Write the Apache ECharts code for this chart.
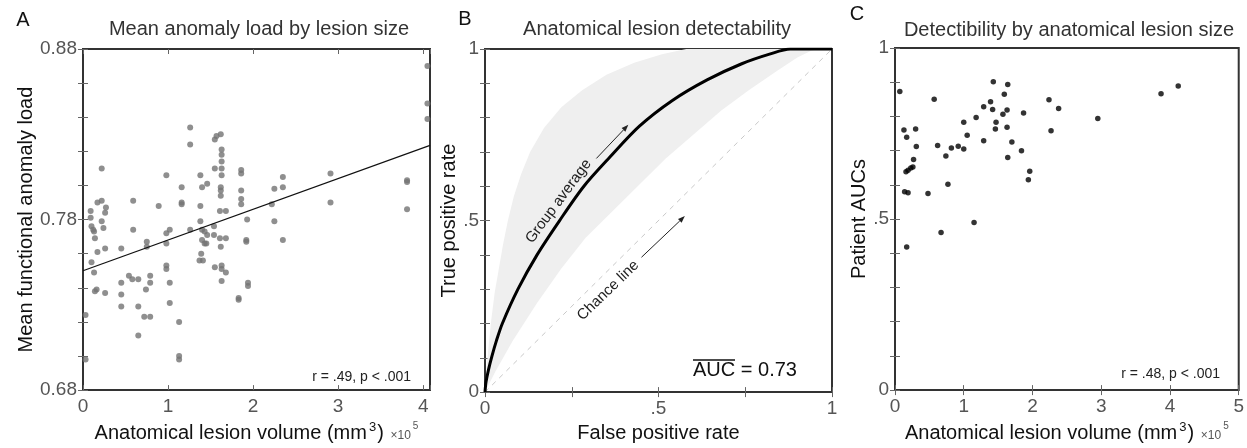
<!DOCTYPE html>
<html lang="en">
<head>
<meta charset="UTF-8">
<title>Lesion detectability</title>
<script src="https://cdn.jsdelivr.net/npm/echarts@6/dist/echarts.min.js"></script>
<style>
    html, body { margin: 0; padding: 0; background: #fff; }
    #main { width: 1247px; height: 448px; }
</style>
</head>
<body>
<div id="main"></div>
<script>
var FONT = '"Liberation Sans", Arial, Helvetica, sans-serif';

// --- panel A: mean anomaly load vs lesion volume (x 10^5 mm3)
var volA = [0.03,0.03,0.09,0.09,0.10,0.12,0.13,0.14,0.10,0.13,0.14,0.16,0.17,0.17,0.22,0.22,0.22,0.24,0.26,0.27,0.26,0.26,
    0.45,0.45,0.45,0.45,0.54,0.58,0.65,0.59,0.59,0.65,0.65,0.72,0.79,0.74,0.75,0.75,0.79,0.79,
    0.89,0.98,0.98,0.98,1.02,0.98,0.98,1.02,1.02,1.13,1.13,1.13,1.16,1.16,1.16,1.26,1.26,1.26,
    1.38,1.38,1.38,1.40,1.46,1.40,1.43,1.46,1.40,1.43,1.45,1.39,1.37,1.41,
    1.55,1.57,1.62,1.63,1.63,1.63,1.55,1.63,1.63,1.62,1.62,1.62,1.61,1.68,1.54,1.54,1.61,1.68,1.62,1.55,1.63,1.63,1.68,1.63,
    1.86,1.86,1.86,1.86,1.86,1.93,1.92,1.92,1.83,1.83,1.94,1.94,
    2.22,2.25,2.25,2.35,2.35,2.35,2.91,2.91,3.81,3.81,3.81,4.05,4.05,4.05];
var loadA = [0.698,0.724,0.785,0.781,0.776,0.774,0.773,0.769,0.755,0.749,0.738,0.739,0.761,0.790,0.791,0.810,0.779,0.775,0.784,0.787,0.763,0.737,
    0.763,0.743,0.736,0.729,0.747,0.745,0.745,0.791,0.774,0.729,0.712,0.723,0.723,0.739,0.764,0.767,0.747,0.743,
    0.788,0.806,0.766,0.772,0.774,0.753,0.751,0.743,0.731,0.720,0.700,0.698,0.799,0.790,0.789,0.834,0.824,0.774,
    0.806,0.788,0.779,0.799,0.801,0.774,0.773,0.771,0.768,0.766,0.766,0.760,0.756,0.756,
    0.827,0.829,0.830,0.821,0.818,0.814,0.810,0.810,0.806,0.799,0.797,0.794,0.785,0.785,0.776,0.771,0.769,0.769,0.764,0.752,0.753,0.751,0.749,0.744,
    0.809,0.807,0.797,0.792,0.789,0.780,0.768,0.767,0.734,0.733,0.743,0.741,
    0.789,0.798,0.779,0.805,0.799,0.768,0.807,0.790,0.803,0.802,0.786,0.870,0.848,0.839];
var fitAx = [0, 4.08];
var fitAy = [0.750, 0.8235];
var tickLabelsA = [0.68, 0.78, 0.88];

// --- panel B: ROC curve, group average and spread
var rocFpr = [0, 0.003, 0.01, 0.02, 0.033, 0.05, 0.095, 0.15, 0.215, 0.285, 0.36, 0.445, 0.54, 0.64, 0.74, 0.82, 0.88, 1];
var rocTpr = [0, 0.03, 0.065, 0.105, 0.15, 0.2, 0.3, 0.4, 0.5, 0.6, 0.685, 0.775, 0.85, 0.91, 0.957, 0.985, 1, 1];
var bandHiFpr = [0, 0.004, 0.01, 0.018, 0.028, 0.04, 0.052, 0.066, 0.083, 0.104, 0.13, 0.17, 0.22, 0.28, 0.35, 0.43, 0.51, 0.58, 1];
var bandHiTpr = [0, 0.06, 0.13, 0.21, 0.29, 0.36, 0.43, 0.5, 0.57, 0.635, 0.7, 0.77, 0.83, 0.88, 0.925, 0.96, 0.985, 1, 1];
var bandLoFpr = [0, 0.03, 0.08, 0.15, 0.22, 0.29, 0.36, 0.44, 0.52, 0.6, 0.68, 0.76, 0.84, 0.9, 0.94, 0.96, 1];
var bandLoTpr = [0, 0.06, 0.15, 0.26, 0.36, 0.45, 0.52, 0.6, 0.68, 0.75, 0.82, 0.88, 0.935, 0.975, 0.995, 1, 1];
var chance = [[0, 0], [1, 1]];
var notesB = [
    { text: 'Group average', fpr: 0.212, tpr: 0.556, angle: 53.5 },
    { text: 'Chance line', fpr: 0.355, tpr: 0.296, angle: 44 }
];
var arrowsB = [[0.321, 0.681, 0.413, 0.779], [0.451, 0.393, 0.576, 0.513]];

// --- panel C: patient AUC vs lesion volume
var volC = [0.07,0.13,0.17,0.30,0.31,0.27,0.16,0.19,0.23,0.26,0.14,0.19,0.48,0.17,0.57,0.62,0.74,0.77,0.67,0.82,0.92,
    1.00,1.00,1.05,1.15,1.18,1.29,1.29,1.39,1.42,1.43,1.47,1.46,1.57,1.59,1.64,1.63,1.63,1.64,1.70,
    1.84,1.87,1.96,1.94,2.24,2.27,2.38,2.95,3.87,4.12];
var aucC = [0.873,0.760,0.739,0.763,0.712,0.674,0.638,0.643,0.649,0.652,0.580,0.577,0.575,0.418,0.850,0.715,0.684,0.602,0.461,0.708,0.713,
    0.783,0.705,0.745,0.490,0.797,0.828,0.729,0.843,0.820,0.901,0.783,0.763,0.806,0.865,0.893,0.819,0.768,0.680,0.725,
    0.700,0.810,0.640,0.615,0.849,0.758,0.823,0.794,0.866,0.889];

function pairs(xs, ys) {
    return xs.map(function (x, i) { return [x, ys[i]]; });
}
function near(v, list) {
    return list.some(function (t) { return Math.abs(v - t) < 1e-6; });
}
function shortNum(v) {
    // MATLAB style ".5"
    if (Math.abs(v) < 1e-9) return '0';
    if (Math.abs(v - 1) < 1e-9) return '1';
    return String(Math.round(v * 10) / 10).replace(/^0\./, '.');
}

var myChart = echarts.init(document.getElementById('main'));

var tickStyle = { show: true, inside: true, length: 5, lineStyle: { color: '#666', width: 1 } };
var labelStyle = { color: '#555', fontSize: 19, fontFamily: FONT };
var volName = '{n|Anatomical lesion volume (mm}{s|3}{n|)}{m|  \u00d710}{ms|5}';
var volRich = {
    n: { fontSize: 20, color: '#111', fontFamily: FONT, lineHeight: 24, verticalAlign: 'middle' },
    s: { fontSize: 13, color: '#111', fontFamily: FONT, verticalAlign: 'top', lineHeight: 24, padding: [0, 1, 0, 2] },
    m: { fontSize: 12, color: '#555', fontFamily: FONT, lineHeight: 24, verticalAlign: 'middle', padding: [6, 0, 0, 0] },
    ms: { fontSize: 10, color: '#555', fontFamily: FONT, lineHeight: 24, verticalAlign: 'top', padding: [0, 0, 0, 2] }
};

function xAxis(grid, min, max, interval, fmt, name, rich) {
    return {
        type: 'value', gridIndex: grid, min: min, max: max, interval: interval,
        axisLine: { show: false }, axisTick: tickStyle, splitLine: { show: false },
        axisLabel: Object.assign({ margin: 7, formatter: fmt, showMaxLabel: true }, labelStyle),
        name: name, nameLocation: 'middle', nameGap: 30,
        nameTextStyle: rich ? { rich: rich } : { fontSize: 20, color: '#111', fontFamily: FONT }
    };
}
function yAxis(grid, min, max, interval, fmt, name, gap) {
    return {
        type: 'value', gridIndex: grid, min: min, max: max, interval: interval,
        axisLine: { show: false }, axisTick: tickStyle, splitLine: { show: false },
        axisLabel: Object.assign({ margin: 6, formatter: fmt }, labelStyle),
        name: name, nameLocation: 'middle', nameGap: gap,
        nameTextStyle: { fontSize: 20, color: '#111', fontFamily: FONT }
    };
}
function mirror(axis, pos) {
    return {
        type: 'value', gridIndex: axis.gridIndex, min: axis.min, max: axis.max, interval: axis.interval,
        position: pos, axisLine: { show: false }, axisTick: tickStyle,
        axisLabel: { show: false }, splitLine: { show: false }
    };
}

var xs = [
    xAxis(0, 0, 4.08, 1, function (v) { return Math.abs(v - Math.round(v)) < 1e-6 ? String(Math.round(v)) : ''; }, volName, volRich),
    xAxis(1, 0, 1, 0.25, function (v) { return near(v, [0, 0.5, 1]) ? shortNum(v) : ''; }, 'False positive rate'),
    xAxis(2, 0, 5, 1, function (v) { return String(v); }, volName, volRich)
];
var ys = [
    yAxis(0, 0.68, 0.88, 0.02, function (v) { return near(v, tickLabelsA) ? v.toFixed(2) : ''; }, 'Mean functional anomaly load', 44),
    yAxis(1, 0, 1, 0.1, function (v) { return near(v, [0, 0.5, 1]) ? shortNum(v) : ''; }, 'True positive rate', 17),
    yAxis(2, 0, 1, 0.1, function (v) { return near(v, [0, 0.5, 1]) ? shortNum(v) : ''; }, 'Patient AUCs', 17)
];
xs = xs.concat(xs.map(function (a) { return mirror(a, 'top'); }));
ys = ys.concat(ys.map(function (a) { return mirror(a, 'right'); }));

var gridBox = { show: true, borderColor: '#333', borderWidth: 2, backgroundColor: 'transparent' };

function titleAt(text, x, top, size, color) {
    return { text: text, left: x, top: top, padding: 0, textAlign: 'center',
        textStyle: { fontSize: size, fontWeight: 'normal', color: color, fontFamily: FONT } };
}

var option = {
    animation: false,
    backgroundColor: '#fff',
    textStyle: { fontFamily: FONT },
    title: [
        titleAt('Mean anomaly load by lesion size', 259, 19, 20, '#333'),
        titleAt('Anatomical lesion detectability', 657, 19, 20, '#333'),
        titleAt('Detectibility by anatomical lesion size', 1069, 20, 20, '#333'),
        titleAt('A', 23, 10, 20, '#111'),
        titleAt('B', 465, 9, 20, '#111'),
        titleAt('C', 857, 4, 20, '#111')
    ],
    grid: [
        Object.assign({ left: 83, top: 49, width: 347, height: 348 }, gridBox),
        Object.assign({ left: 485, top: 49, width: 347, height: 347 }, gridBox),
        Object.assign({ left: 895, top: 48, width: 347, height: 345 }, gridBox)
    ],
    xAxis: xs,
    yAxis: ys,
    graphic: [
        { type: 'text', x: 411, y: 377, style: { text: 'r = .49, p < .001', font: '14px ' + FONT, fill: '#222',
            align: 'right', verticalAlign: 'middle', textAlign: 'right', textVerticalAlign: 'middle' } },
        { type: 'text', x: 1220, y: 374, style: { text: 'r = .48, p < .001', font: '14px ' + FONT, fill: '#222',
            align: 'right', verticalAlign: 'middle', textAlign: 'right', textVerticalAlign: 'middle' } },
        { type: 'text', x: 693, y: 360, style: { text: 'AUC = 0.73', font: '20px ' + FONT, fill: '#111' } },
        { type: 'line', shape: { x1: 693, y1: 360, x2: 735, y2: 360 }, style: { stroke: '#111', lineWidth: 1.5 } }
    ],
    series: [
        {
            type: 'scatter', xAxisIndex: 0, yAxisIndex: 0, symbolSize: 6,
            itemStyle: { color: '#737373' }, data: pairs(volA, loadA), z: 3
        },
        {
            type: 'line', xAxisIndex: 0, yAxisIndex: 0, symbol: 'none',
            lineStyle: { color: '#111', width: 1.2 }, data: pairs(fitAx, fitAy), z: 4
        },
        {
            // spread of individual ROC curves
            type: 'custom', xAxisIndex: 1, yAxisIndex: 1, data: [[0, 0]], z: 1,
            renderItem: function (params, api) {
                var pts = [];
                bandHiFpr.forEach(function (x, i) { pts.push(api.coord([x, bandHiTpr[i]])); });
                for (var i = bandLoFpr.length - 1; i >= 0; i--) pts.push(api.coord([bandLoFpr[i], bandLoTpr[i]]));
                return { type: 'polygon', shape: { points: pts }, style: { fill: '#efefef' } };
            }
        },
        {
            type: 'line', xAxisIndex: 1, yAxisIndex: 1, symbol: 'none', z: 2,
            lineStyle: { color: '#c8c8c8', width: 1, type: [5, 5] }, data: chance
        },
        {
            type: 'line', xAxisIndex: 1, yAxisIndex: 1, symbol: 'none', smooth: 0.3, z: 3,
            lineStyle: { color: '#000', width: 3 }, data: pairs(rocFpr, rocTpr)
        },
        {
            type: 'custom', xAxisIndex: 1, yAxisIndex: 1, data: arrowsB, z: 5,
            renderItem: function (params, api) {
                var a = api.coord([api.value(0), api.value(1)]);
                var b = api.coord([api.value(2), api.value(3)]);
                var ang = Math.atan2(b[1] - a[1], b[0] - a[0]);
                var L = 7, W = 2.6;
                var bx = b[0] - L * Math.cos(ang), by = b[1] - L * Math.sin(ang);
                return {
                    type: 'group', children: [
                        { type: 'line', shape: { x1: a[0], y1: a[1], x2: bx, y2: by }, style: { stroke: '#222', lineWidth: 1 } },
                        { type: 'polygon', shape: { points: [b,
                            [bx + W * Math.sin(ang), by - W * Math.cos(ang)],
                            [bx - W * Math.sin(ang), by + W * Math.cos(ang)]] }, style: { fill: '#222' } }
                    ]
                };
            }
        },
        {
            type: 'custom', xAxisIndex: 1, yAxisIndex: 1, z: 5,
            data: notesB.map(function (n) { return [n.fpr, n.tpr]; }),
            renderItem: function (params, api) {
                var n = notesB[params.dataIndex];
                var p = api.coord([api.value(0), api.value(1)]);
                return {
                    type: 'text', x: p[0], y: p[1], rotation: n.angle * Math.PI / 180,
                    style: { text: n.text, font: '15px ' + FONT, fill: '#222',
                        align: 'center', verticalAlign: 'middle', textAlign: 'center', textVerticalAlign: 'middle' }
                };
            }
        },
        {
            type: 'scatter', xAxisIndex: 2, yAxisIndex: 2, symbolSize: 5.5,
            itemStyle: { color: '#000' }, data: pairs(volC, aucC)
        }
    ]
};
myChart.setOption(option);
</script>
</body>
</html>
